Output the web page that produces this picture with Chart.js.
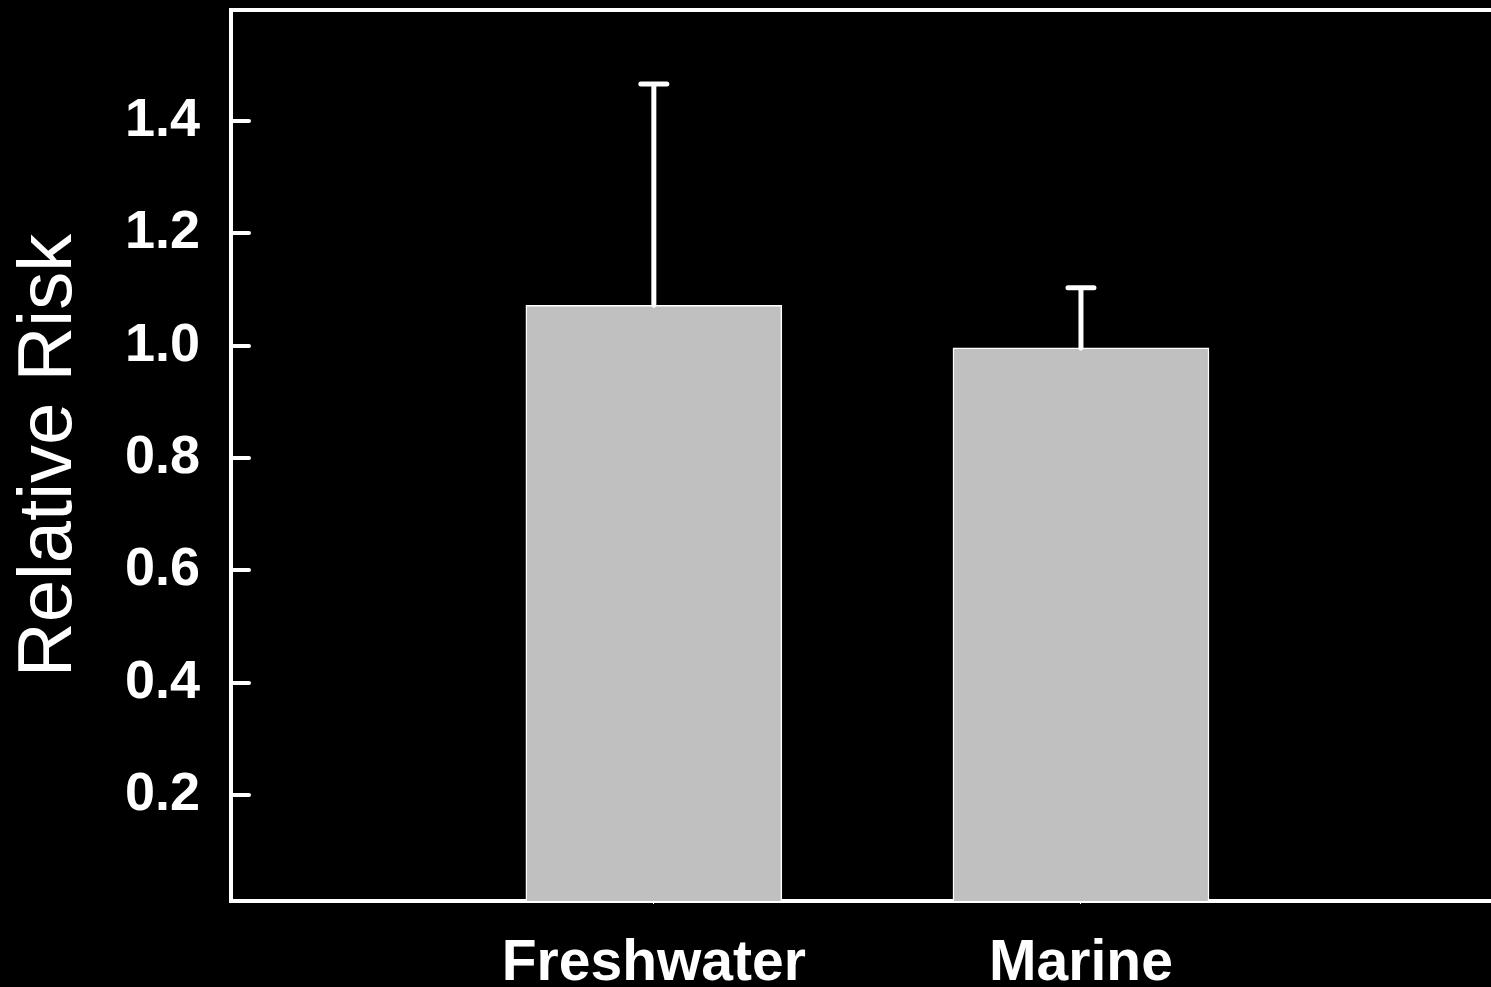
<!DOCTYPE html>
<html>
<head>
<meta charset="utf-8">
<script src="https://cdn.jsdelivr.net/npm/chart.js@4.4.1/dist/chart.umd.min.js"></script>
<style>
  html, body { margin: 0; padding: 0; background: #000; overflow: hidden; }
  #wrap { width: 1491px; height: 987px; }
</style>
</head>
<body>
<div id="wrap"><canvas id="rr-chart"></canvas></div>
<script>
// values
var categories = ['Freshwater', 'Marine'];
var catPositions = [1, 2];
var relRisk = [1.072, 0.996];
var upperErr = [1.466, 1.103];
var yTicks = [0.2, 0.4, 0.6, 0.8, 1.0, 1.2, 1.4];

var FONT = '"Liberation Sans", Arial, Helvetica, sans-serif';

// error bars, inward y ticks and top frame line
var decorPlugin = {
    id: 'decor',
    afterDatasetsDraw: function(chart) {
        var ctx = chart.ctx;
        var yScale = chart.scales.y;
        var meta = chart.getDatasetMeta(0);
        ctx.save();
        ctx.strokeStyle = '#fff';
        ctx.lineWidth = 5;
        ctx.lineCap = 'round';
        meta.data.forEach(function(bar, i) {
            var x = bar.x;
            var yTop = yScale.getPixelForValue(upperErr[i]);
            var yBar = yScale.getPixelForValue(relRisk[i]);
            ctx.beginPath();
            ctx.moveTo(x, yBar);
            ctx.lineTo(x, yTop);
            ctx.moveTo(x - 13, yTop);
            ctx.lineTo(x + 13, yTop);
            ctx.stroke();
        });
        ctx.restore();
    },
    afterDraw: function(chart) {
        var ctx = chart.ctx;
        var area = chart.chartArea;
        var yScale = chart.scales.y;
        var xScale = chart.scales.x;
        ctx.save();
        ctx.strokeStyle = '#fff';
        ctx.lineWidth = 4;
        ctx.lineCap = 'round';
        yTicks.forEach(function(v) {
            var y = Math.round(yScale.getPixelForValue(v));
            ctx.beginPath();
            ctx.moveTo(area.left, y);
            ctx.lineTo(area.left + 18, y);
            ctx.stroke();
        });
        ctx.lineCap = 'butt';
        ctx.beginPath();
        ctx.moveTo(area.left - 2, area.top);
        ctx.lineTo(chart.width, area.top);
        ctx.stroke();
        // tiny category tick dots under the x axis
        ctx.fillStyle = '#fff';
        catPositions.forEach(function(p) {
            var x = Math.round(xScale.getPixelForValue(p));
            ctx.fillRect(x - 1, area.bottom + 1, 1, 2);
        });
        ctx.restore();
    }
};

var ctx = document.getElementById('rr-chart').getContext('2d');
new Chart(ctx, {
    type: 'bar',
    data: {
        datasets: [{
            data: catPositions.map(function(p, i) { return { x: p, y: relRisk[i] }; }),
            backgroundColor: '#c0c0c0',
            borderColor: '#ffffff',
            borderWidth: 1.5,
            barThickness: 256
        }]
    },
    options: {
        responsive: true,
        maintainAspectRatio: false,
        animation: false,
        layout: { padding: { top: 10, left: 0, right: 0, bottom: 0 } },
        plugins: {
            legend: { display: false },
            tooltip: { enabled: false }
        },
        scales: {
            x: {
                type: 'linear',
                offset: false,
                min: 0.01,
                max: 2.96,
                afterBuildTicks: function(scale) {
                    scale.ticks = catPositions.map(function(p) { return { value: p }; });
                },
                afterFit: function(scale) {
                    scale.height = 86;
                    scale.paddingLeft = 0;
                    scale.paddingRight = 0;
                },
                grid: { display: false, drawTicks: false },
                border: { display: true, color: '#fff', width: 4 },
                ticks: {
                    color: '#fff',
                    padding: 29,
                    maxRotation: 0,
                    autoSkip: false,
                    font: { family: FONT, size: 57, weight: 'bold' },
                    callback: function(v) {
                        var i = catPositions.indexOf(v);
                        return i >= 0 ? categories[i] : '';
                    }
                }
            },
            y: {
                min: 0.0113,
                max: 1.5976,
                afterBuildTicks: function(scale) {
                    scale.ticks = yTicks.map(function(v) { return { value: v }; });
                },
                afterFit: function(scale) {
                    scale.width = 231;
                    scale.paddingTop = 0;
                    scale.paddingBottom = 0;
                },
                grid: { display: false, drawTicks: false },
                border: { display: true, color: '#fff', width: 4 },
                ticks: {
                    color: '#fff',
                    padding: 31,
                    font: { family: FONT, size: 54, weight: 'bold' },
                    callback: function(v) { return v.toFixed(1); }
                },
                title: {
                    display: true,
                    text: 'Relative Risk',
                    color: '#fff',
                    padding: { top: 4, bottom: 0 },
                    font: { family: FONT, size: 76, weight: 'normal' }
                }
            }
        }
    },
    plugins: [decorPlugin]
});
</script>
</body>
</html>
